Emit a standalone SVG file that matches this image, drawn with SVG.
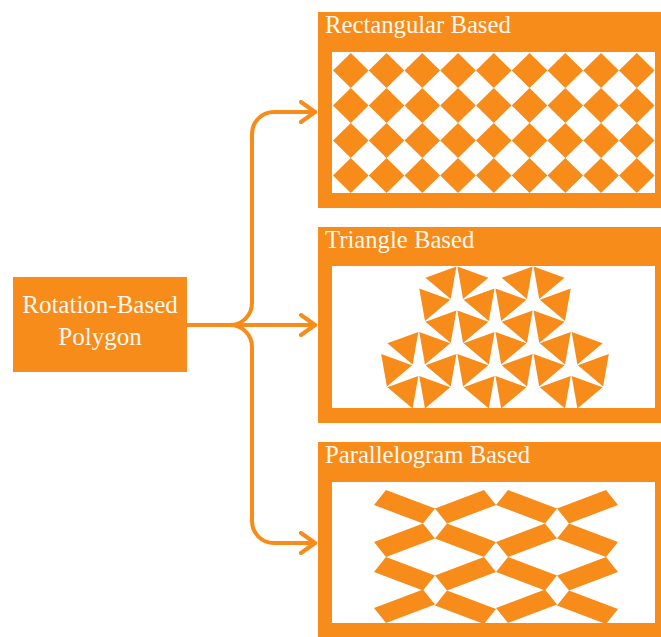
<svg xmlns="http://www.w3.org/2000/svg" width="661" height="637" viewBox="0 0 661 637">
  <style>
    .box { fill: #F78C1A; }
    .inner { fill: #FFFFFF; }
    .shape { fill: #F78C1A; }
    .title { font-family: "Liberation Serif", "Times New Roman", serif; font-size: 24.7px; fill: #FFF8F0; }
    .nodetext { font-family: "Liberation Serif", "Times New Roman", serif; font-size: 25px; fill: #FFF8F0; text-anchor: middle; }
    .conn { fill: none; stroke: #F78C1A; stroke-width: 4; stroke-linecap: round; stroke-linejoin: round; }
  </style>
  <defs>
    <marker id="arrow" viewBox="-17 -12 20 24" refX="0" refY="0" markerWidth="20" markerHeight="24" markerUnits="userSpaceOnUse" orient="auto">
      <path d="M -14 -10 L 0 0 L -14 10" fill="none" stroke="#F78C1A" stroke-width="4" stroke-linecap="round" stroke-linejoin="round"/>
    </marker>
    <polygon id="dia" points="0,-17.5 17.8,0 0,17.5 -17.8,0"/>
    <g id="tri6">
      <polygon points="-12.7,-22 25.4,0 -12.7,22" transform="translate(12.7,-22) rotate(-10) scale(0.75)"/>
      <polygon points="12.7,-22 12.7,22 -25.4,0" transform="translate(25.4,0) rotate(10) scale(0.75)"/>
      <polygon points="-12.7,-22 25.4,0 -12.7,22" transform="translate(12.7,22) rotate(-10) scale(0.75)"/>
      <polygon points="12.7,-22 12.7,22 -25.4,0" transform="translate(-12.7,22) rotate(10) scale(0.75)"/>
      <polygon points="-12.7,-22 25.4,0 -12.7,22" transform="translate(-25.4,0) rotate(-10) scale(0.75)"/>
      <polygon points="12.7,-22 12.7,22 -25.4,0" transform="translate(-12.7,-22) rotate(10) scale(0.75)"/>
    </g>
    <polygon id="pdown" points="12,0 61,18.5 49,33.5 0,15"/>
    <polygon id="pup" points="0,-15 49,-33.5 61,-18.5 12,0"/>
  </defs>

  <g id="connectors">
    <path class="conn" d="M 187 325 H 230 A 22 22 0 0 0 252 303 V 134 A 22 22 0 0 1 274 112 H 315" marker-end="url(#arrow)"/>
    <path class="conn" d="M 187 325 H 315" marker-end="url(#arrow)"/>
    <path class="conn" d="M 187 325 H 230 A 22 22 0 0 1 252 347 V 521 A 22 22 0 0 0 274 543 H 315" marker-end="url(#arrow)"/>
  </g>

  <g id="node-root">
    <rect class="box" x="13" y="277" width="174" height="95"/>
    <text class="nodetext" x="100" y="313">Rotation-Based</text>
    <text class="nodetext" x="100" y="345">Polygon</text>
  </g>

  <g id="panel-rectangular">
    <rect class="box" x="318" y="12" width="343" height="196"/>
    <text class="title" x="325" y="32.5">Rectangular Based</text>
    <rect class="inner" x="332" y="52" width="323" height="141"/>
    <g class="shape">
      <use href="#dia" x="350.8" y="70.5"/><use href="#dia" x="386.55" y="70.5"/><use href="#dia" x="422.3" y="70.5"/><use href="#dia" x="458.05" y="70.5"/><use href="#dia" x="493.8" y="70.5"/><use href="#dia" x="529.55" y="70.5"/><use href="#dia" x="565.3" y="70.5"/><use href="#dia" x="601.05" y="70.5"/><use href="#dia" x="636.8" y="70.5"/>
      <use href="#dia" x="350.8" y="105.5"/><use href="#dia" x="386.55" y="105.5"/><use href="#dia" x="422.3" y="105.5"/><use href="#dia" x="458.05" y="105.5"/><use href="#dia" x="493.8" y="105.5"/><use href="#dia" x="529.55" y="105.5"/><use href="#dia" x="565.3" y="105.5"/><use href="#dia" x="601.05" y="105.5"/><use href="#dia" x="636.8" y="105.5"/>
      <use href="#dia" x="350.8" y="140.5"/><use href="#dia" x="386.55" y="140.5"/><use href="#dia" x="422.3" y="140.5"/><use href="#dia" x="458.05" y="140.5"/><use href="#dia" x="493.8" y="140.5"/><use href="#dia" x="529.55" y="140.5"/><use href="#dia" x="565.3" y="140.5"/><use href="#dia" x="601.05" y="140.5"/><use href="#dia" x="636.8" y="140.5"/>
      <use href="#dia" x="350.8" y="175.5"/><use href="#dia" x="386.55" y="175.5"/><use href="#dia" x="422.3" y="175.5"/><use href="#dia" x="458.05" y="175.5"/><use href="#dia" x="493.8" y="175.5"/><use href="#dia" x="529.55" y="175.5"/><use href="#dia" x="565.3" y="175.5"/><use href="#dia" x="601.05" y="175.5"/><use href="#dia" x="636.8" y="175.5"/>
    </g>
  </g>

  <g id="panel-triangle">
    <rect class="box" x="318" y="227" width="343" height="196"/>
    <text class="title" x="325" y="247.5">Triangle Based</text>
    <rect class="inner" x="332" y="266" width="323" height="142"/>
    <g class="shape">
      <use href="#tri6" x="456.9" y="303"/>
      <use href="#tri6" x="533.1" y="303"/>
      <use href="#tri6" x="418.8" y="368.5"/>
      <use href="#tri6" x="495" y="368.5"/>
      <use href="#tri6" x="571.2" y="368.5"/>
    </g>
  </g>

  <g id="panel-parallelogram">
    <rect class="box" x="318" y="442" width="343" height="196"/>
    <text class="title" x="325" y="462.5">Parallelogram Based</text>
    <rect class="inner" x="332" y="482" width="323" height="141"/>
    <g class="shape">
      <use href="#pdown" x="374" y="490"/><use href="#pup" x="435" y="523.5"/><use href="#pdown" x="496" y="490"/><use href="#pup" x="557" y="523.5"/>
      <use href="#pup" x="374" y="557"/><use href="#pdown" x="435" y="523.5"/><use href="#pup" x="496" y="557"/><use href="#pdown" x="557" y="523.5"/>
      <use href="#pdown" x="374" y="557"/><use href="#pup" x="435" y="590.5"/><use href="#pdown" x="496" y="557"/><use href="#pup" x="557" y="590.5"/>
      <use href="#pup" x="374" y="623"/><use href="#pdown" x="435" y="590.5"/><use href="#pup" x="496" y="623"/><use href="#pdown" x="557" y="590.5"/>
    </g>
  </g>
</svg>
